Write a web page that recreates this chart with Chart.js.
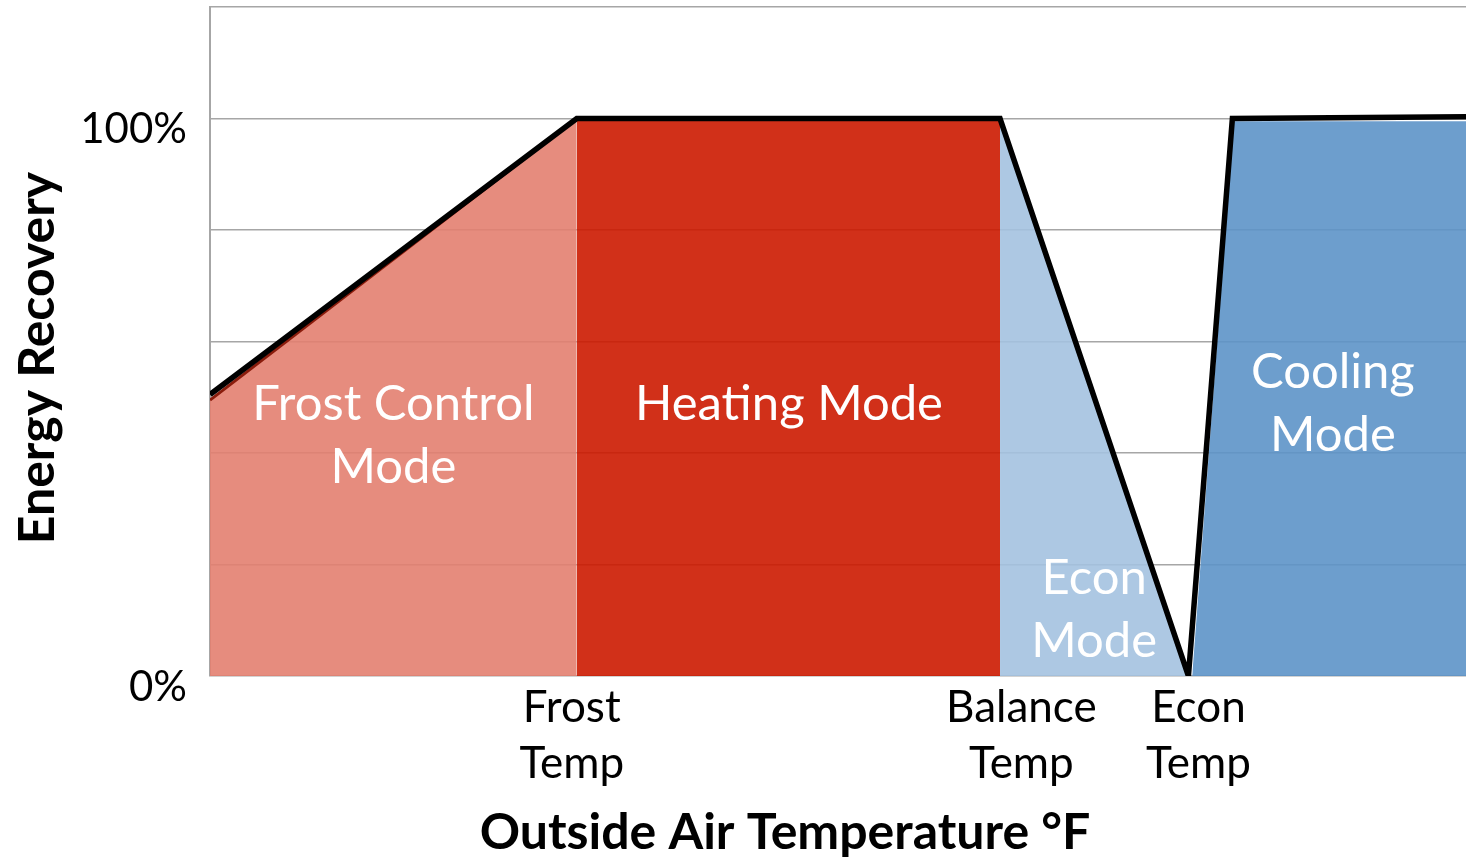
<!DOCTYPE html>
<html>
<head>
<meta charset="utf-8">
<title>Energy Recovery vs Outside Air Temperature</title>
<script src="https://cdn.jsdelivr.net/npm/chart.js@4.4.1/dist/chart.umd.min.js"></script>
<style>
  html, body { margin: 0; padding: 0; background: #fff; }
  #wrap { width: 1466px; height: 861px; position: relative; }
</style>
</head>
<body>
<div id="wrap"><canvas id="modeChart"></canvas></div>
<script>
// ===== DATA (x in relative temperature units 0..100, y in % recovery) =====
const lineX = [0, 29.2, 62.9, 77.9, 81.4, 100];
const lineY = [50.5, 100, 100, 0, 100, 100.3];

const frostX = [0, 29.2];
const frostY = [49.5, 100];
const heatX  = [29.2, 62.9];
const heatY  = [100, 100];
const econX  = [62.9, 77.9];
const econY  = [100, 0];
const coolX  = [78.2, 81.5, 100];
const coolY  = [0, 99.5, 99.5];

const xTickValues = [28.8, 64.6, 78.7];
const xTickLabels = [['Frost', 'Temp'], ['Balance', 'Temp'], ['Econ', 'Temp']];
const yTickValues = [0, 100];
const yTickLabels = ['0%', '100%'];

const regionLabels = [
  { text: ['Frost Control', 'Mode'], x: 14.6, y: 43.1 },
  { text: ['Heating Mode'],          x: 46.1, y: 48.7 },
  { text: ['Econ', 'Mode'],          x: 70.4, y: 11.9 },
  { text: ['Cooling', 'Mode'],       x: 89.4, y: 48.8 },
];

const FONT = "Lato, 'Open Sans', sans-serif";
const GRID = '#a6a6a6';

const pts = (xs, ys) => xs.map((x, i) => ({ x, y: ys[i] }));

function fillSet(xs, ys, color, edge) {
  return {
    data: pts(xs, ys),
    backgroundColor: color,
    borderColor: edge || 'transparent',
    borderWidth: edge ? 3 : 0,
    fill: 'origin',
    pointRadius: 0,
    tension: 0,
  };
}

// draws in-region labels and both axis titles
const textPlugin = {
  id: 'textPlugin',
  afterDatasetsDraw(chart) {
    const { ctx, scales: { x, y } } = chart;
    ctx.save();
    ctx.fillStyle = '#fff';
    ctx.font = `49px ${FONT}`;
    ctx.textAlign = 'center';
    ctx.textBaseline = 'middle';
    const lh = 63;
    regionLabels.forEach(l => {
      const cx = x.getPixelForValue(l.x);
      const cy = y.getPixelForValue(l.y);
      const y0 = cy - (l.text.length - 1) * lh / 2;
      l.text.forEach((t, i) => ctx.fillText(t, cx, y0 + i * lh));
    });

    ctx.fillStyle = '#000';
    ctx.font = `bold 50px ${FONT}`;
    ctx.fillText('Outside Air Temperature °F', 785, 833);

    ctx.translate(38, 358);
    ctx.rotate(-Math.PI / 2);
    ctx.fillText('Energy Recovery', 0, 0);
    ctx.restore();
  }
};

new Chart(document.getElementById('modeChart'), {
  type: 'line',
  data: {
    datasets: [
      {
        data: pts(lineX, lineY),
        borderColor: '#000',
        borderWidth: 5.5,
        fill: false,
        pointRadius: 0,
        tension: 0,
        borderJoinStyle: 'miter',
      },
      fillSet(frostX, frostY, 'rgba(227,127,112,0.9)', '#8a1c0c'),
      fillSet(heatX,  heatY,  'rgba(204,25,0,0.9)'),
      fillSet(econX,  econY,  'rgba(164,194,224,0.9)', '#3b5a7c'),
      fillSet(coolX,  coolY,  'rgba(93,147,200,0.9)'),
    ]
  },
  options: {
    responsive: true,
    maintainAspectRatio: false,
    animation: false,
    layout: { padding: { top: 7, right: 0, left: 0, bottom: 0 } },
    plugins: { legend: { display: false }, tooltip: { enabled: false } },
    scales: {
      x: {
        type: 'linear',
        min: 0,
        max: 100,
        afterBuildTicks: s => { s.ticks = xTickValues.map(v => ({ value: v })); },
        afterFit: s => { s.height = 185; s.paddingLeft = 0; s.paddingRight = 0; },
        grid: { display: false },
        border: { display: false },
        ticks: {
          color: '#000',
          font: { family: FONT, size: 44, lineHeight: 1.27 },
          padding: -4,
          maxRotation: 0,
          autoSkip: false,
          callback: (v, i) => xTickLabels[i],
        }
      },
      y: {
        min: 0,
        max: 120,
        afterFit: s => { s.width = 210; s.paddingTop = 0; s.paddingBottom = 0; },
        ticks: {
          stepSize: 20,
          color: '#000',
          padding: 23,
          labelOffset: 11,
          font: { family: FONT, size: 42 },
          callback: v => {
            const i = yTickValues.indexOf(v);
            return i >= 0 ? yTickLabels[i] : '';
          }
        },
        grid: { color: GRID, lineWidth: 1.5, drawTicks: false },
        border: { color: GRID, width: 2 },
      }
    }
  },
  plugins: [textPlugin]
});
</script>
</body>
</html>
